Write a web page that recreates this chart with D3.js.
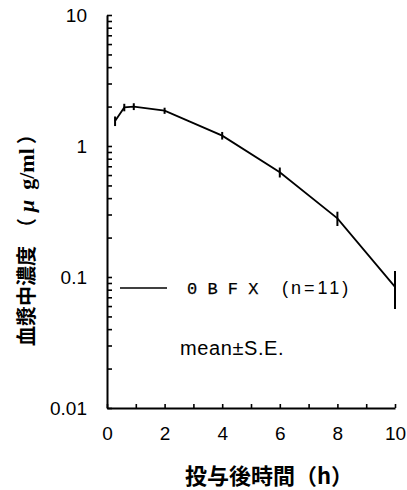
<!DOCTYPE html>
<html>
<head>
<meta charset="utf-8">
<script src="https://cdn.jsdelivr.net/npm/d3@7"></script>
<style>
  html, body { margin: 0; padding: 0; background: #fff; }
  svg { display: block; }
</style>
</head>
<body>
<svg id="chart" width="407" height="490"></svg>
<script>
// ---- data ----
const timeH      = [0.28, 0.6, 0.93, 2, 4, 6, 8, 10];          // hours after dosing
const meanConc   = [1.55, 1.97, 2.0, 1.86, 1.2, 0.63, 0.28, 0.084]; // µg/ml
const seConc     = [0.13, 0.13, 0.12, 0.10, 0.08, 0.055, 0.035, 0.027];
const xTickVals  = [0, 1, 2, 3, 4, 5, 6, 7, 8, 9, 10];
const xTickLabels = ["0", "", "2", "", "4", "", "6", "", "8", "", "10"];
const yMajorTicks = [0.01, 0.1, 1, 10];
const yTickLabels = ["0.01", "0.1", "1", "10"];
const seriesLabel = "0 B F X";
const nLabel      = "(n=11)";
const noteLabel   = "mean±S.E.";
const xTitle      = "投与後時間（h）";
const yTitleMain  = "血漿中濃度";

const svg = d3.select("#chart");
const x = d3.scaleLinear().domain([0, 10]).range([107, 395]);
const y = d3.scaleLog().domain([0.01, 10]).range([408, 15]);

// minor log ticks
const yTickVals = [];
[0.01, 0.1, 1].forEach(d => { for (let k = 1; k <= 9; k++) yTickVals.push(+(d * k).toPrecision(3)); });
yTickVals.push(10);

const fontNum = "'Liberation Sans', Arial, sans-serif";

// Y axis
const yAxis = d3.axisLeft(y)
  .tickValues(yTickVals)
  .tickSizeInner(-5)
  .tickSizeOuter(0)
  .tickPadding(20)
  .tickFormat(d => {
    const i = yMajorTicks.findIndex(m => Math.abs(m - d) < 1e-9);
    return i >= 0 ? yTickLabels[i] : "";
  });
const gy = svg.append("g").attr("transform", "translate(107,0)").call(yAxis);
gy.selectAll("path.domain").attr("stroke", "#000").attr("stroke-width", 2);
gy.selectAll(".tick line").attr("stroke", "#000").attr("stroke-width", 1.6);
gy.selectAll(".tick text").attr("font-family", fontNum).attr("font-size", 19).attr("fill", "#000");

// X axis
const xAxis = d3.axisBottom(x)
  .tickValues(xTickVals)
  .tickSizeInner(-4)
  .tickSizeOuter(0)
  .tickPadding(19)
  .tickFormat((d, i) => xTickLabels[i]);
const gx = svg.append("g").attr("transform", "translate(0,408)").call(xAxis);
gx.selectAll("path.domain").attr("stroke", "#000").attr("stroke-width", 2);
gx.selectAll(".tick line").attr("stroke", "#000").attr("stroke-width", 1.6);
gx.selectAll(".tick text").attr("font-family", fontNum).attr("font-size", 19).attr("fill", "#000");

// data
const pts = timeH.map((t, i) => ({ t, m: meanConc[i], se: seConc[i] }));

svg.append("path")
  .datum(pts)
  .attr("fill", "none")
  .attr("stroke", "#000")
  .attr("stroke-width", 1.8)
  .attr("d", d3.line().x(d => x(d.t)).y(d => y(d.m)));

svg.append("g").selectAll("line")
  .data(pts)
  .join("line")
  .attr("x1", d => x(d.t)).attr("x2", d => x(d.t))
  .attr("y1", d => y(d.m + d.se)).attr("y2", d => y(d.m - d.se))
  .attr("stroke", "#000").attr("stroke-width", 2);

// legend
svg.append("line")
  .attr("x1", 120).attr("x2", 167).attr("y1", 288).attr("y2", 288)
  .attr("stroke", "#000").attr("stroke-width", 1.5);
svg.append("text")
  .attr("x", 187).attr("y", 294)
  .attr("font-family", "'Liberation Mono', 'DejaVu Sans Mono', monospace")
  .attr("font-size", 17)
  .attr("stroke", "#000").attr("stroke-width", 0.25)
  .text(seriesLabel);
svg.append("text")
  .attr("x", 282).attr("y", 294)
  .attr("font-family", fontNum)
  .attr("font-size", 18)
  .attr("letter-spacing", 3)
  .text(nLabel);
svg.append("text")
  .attr("x", 180).attr("y", 355)
  .attr("font-family", fontNum)
  .attr("font-size", 20)
  .attr("letter-spacing", 0.6)
  .text(noteLabel);

// axis titles
svg.append("text")
  .attr("x", 185).attr("y", 484)
  .attr("font-family", "'Noto Sans CJK JP', sans-serif")
  .attr("font-weight", "bold")
  .attr("font-size", 22)
  .text(xTitle);

const yt = svg.append("text")
  .attr("transform", "translate(34,346) rotate(-90)")
  .attr("font-family", "'Noto Sans CJK JP', sans-serif")
  .attr("font-weight", "bold")
  .attr("font-size", 20);
yt.append("tspan").text(yTitleMain);
yt.append("tspan").attr("dx", 8).text("（");
yt.append("tspan").attr("dx", 6).attr("font-family", "'Liberation Serif', serif").attr("font-style", "italic").attr("font-size", 22).text("μ");
yt.append("tspan").attr("dx", 10).attr("font-family", "'Liberation Serif', serif").attr("font-size", 22).text("g/ml");
yt.append("tspan").attr("dx", 4).text("）");
</script>
</body>
</html>
